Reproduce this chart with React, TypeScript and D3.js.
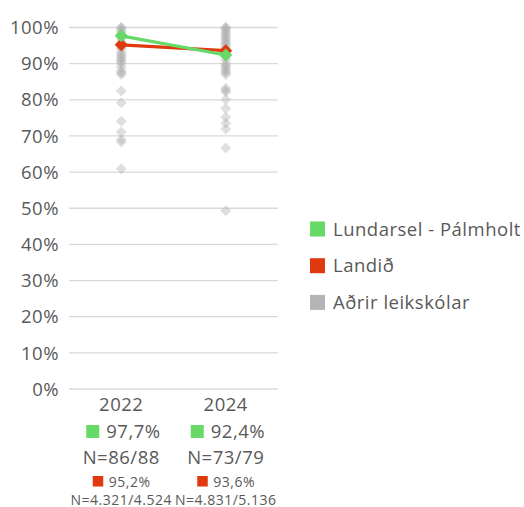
import { useEffect } from "react";
import * as d3 from "d3";

// Chart values
const years = ["2022", "2024"];
const schoolValues = [97.7, 92.4];
const nationalValues = [95.2, 93.6];
const schoolCounts = ["N=86/88", "N=73/79"];
const nationalCounts = ["N=4.321/4.524", "N=4.831/5.136"];
const others2022 = [100, 100, 99.5, 99, 98.5, 98, 97, 96, 95.5, 94.5, 94, 93, 92.5, 92, 91.5, 91, 90.5, 90, 89, 88, 87.5, 87, 82.4, 79.2, 74.1, 71.1, 69, 68.3, 60.9];
const others2024 = [100, 100, 99.5, 99, 98.5, 98, 97.5, 97, 96.5, 96, 95.5, 95, 94.5, 94, 93, 92, 91, 90, 89.5, 89, 88.5, 88, 87.5, 87, 83.2, 82.6, 82.2, 80.1, 77.6, 75.2, 73.5, 71.9, 66.7, 49.3];
const yTicks = [0, 10, 20, 30, 40, 50, 60, 70, 80, 90, 100];
const legendLabels = ["Lundarsel - Pálmholt", "Landið", "Aðrir leikskólar"];

const GREEN = "#66d966";
const RED = "#e0390f";
const GREY = "#b4b4b4";
const TEXT = "#595959";
const FONT = "'Open Sans', 'Noto Sans', sans-serif";

const width = 524;
const height = 507;

const x = d3.scaleBand().domain(years).range([69, 278]);
const y = d3.scaleLinear().domain([0, 100]).range([389, 27.5]);
const cx = (d: string) => (x(d) ?? 0) + x.bandwidth() / 2;

const diamond = (px: number, py: number, r: number) =>
  `M${px},${py - r}L${px + r},${py}L${px},${py + r}L${px - r},${py}Z`;

const fmt = (v: number) => d3.format(".1f")(v).replace(".", ",") + "%";

export default function App() {
  useEffect(() => {
    document.body.style.margin = "0";
  }, []);

  const others = [others2022, others2024];
  const line = d3.line<number>().x((_, i) => cx(years[i])).y(v => y(v));

  return (
    <svg width={width} height={height} style={{ display: "block", fontFamily: FONT, letterSpacing: "0.5px" }}>
      {/* gridlines + y labels */}
      {yTicks.map(t => (
        <g key={t}>
          <line x1={69} x2={278} y1={y(t)} y2={y(t)} stroke="#d9d9d9" strokeWidth={1.3} />
          <text x={59} y={y(t)} dy="0.36em" textAnchor="end" fontSize={18.5} fill={TEXT}>
            {t}%
          </text>
        </g>
      ))}

      {/* other schools */}
      {years.map((yr, i) =>
        others[i].map((v, j) => (
          <path key={yr + j} d={diamond(cx(yr), y(v), 5.5)} fill="#b0b0b0" fillOpacity={0.4} />
        ))
      )}

      {/* national */}
      <path d={line(nationalValues) ?? ""} fill="none" stroke={RED} strokeWidth={3.2} />
      {years.map((yr, i) => (
        <path key={"r" + yr} d={diamond(cx(yr), y(nationalValues[i]), 6.5)} fill={RED} />
      ))}

      {/* school */}
      <path d={line(schoolValues) ?? ""} fill="none" stroke={GREEN} strokeWidth={3.2} />
      {years.map((yr, i) => (
        <path key={"g" + yr} d={diamond(cx(yr), y(schoolValues[i]), 6.5)} fill={GREEN} />
      ))}

      {/* category labels */}
      {years.map((yr, i) => {
        const c = cx(yr);
        return (
          <g key={"lab" + yr} fill={TEXT}>
            <text x={c} y={411} textAnchor="middle" fontSize={18.5}>{yr}</text>
            <rect x={c - 35} y={425} width={13} height={13} fill={GREEN} />
            <text x={c - 15} y={438} fontSize={18.5}>{fmt(schoolValues[i])}</text>
            <text x={c} y={464} textAnchor="middle" fontSize={18.5}>{schoolCounts[i]}</text>
            <rect x={c - 28.5} y={476} width={10.5} height={10.5} fill={RED} />
            <text x={c - 12.5} y={487} fontSize={14}>{fmt(nationalValues[i])}</text>
            <text x={c} y={504.5} textAnchor="middle" fontSize={14}>{nationalCounts[i]}</text>
          </g>
        );
      })}

      {/* legend */}
      {legendLabels.map((l, i) => (
        <g key={l} transform={`translate(310,${229 + i * 36.7})`}>
          <rect x={0} y={-7.5} width={15} height={15} fill={[GREEN, RED, GREY][i]} />
          <text x={23} y={0} dy="0.36em" fontSize={18.5} fill={TEXT}>{l}</text>
        </g>
      ))}
    </svg>
  );
}
